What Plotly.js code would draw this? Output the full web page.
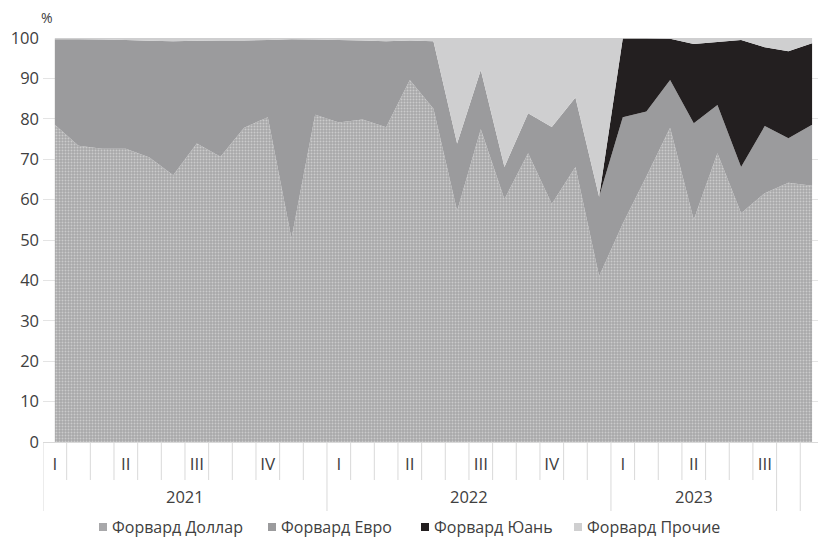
<!DOCTYPE html>
<html>
<head>
<meta charset="utf-8">
<script src="https://cdn.plot.ly/plotly-3.0.1.min.js"></script>
<style>
  html, body { margin: 0; padding: 0; background: #ffffff; }
  #chart { width: 818px; height: 538px; }
</style>
</head>
<body>
<div id="chart"></div>
<script>
// Monthly categories, January 2021 – September 2023
const months = [
  '2021-01','2021-02','2021-03','2021-04','2021-05','2021-06',
  '2021-07','2021-08','2021-09','2021-10','2021-11','2021-12',
  '2022-01','2022-02','2022-03','2022-04','2022-05','2022-06',
  '2022-07','2022-08','2022-09','2022-10','2022-11','2022-12',
  '2023-01','2023-02','2023-03','2023-04','2023-05','2023-06',
  '2023-07','2023-08','2023-09'
];

// Shares of forward contracts by currency, %
const forwardUsd = [
  78.5, 73.3, 72.6, 72.6, 70.4, 66.0, 73.9, 70.6, 77.8, 80.4, 50.4, 81.0,
  79.1, 79.8, 77.9, 89.6, 82.5, 57.2, 77.4, 60.1, 71.5, 58.9, 68.1, 41.0,
  54.0, 65.7, 77.8, 55.0, 71.5, 56.6, 61.6, 64.2, 63.4
];
const forwardEur = [
  21.2, 26.4, 27.0, 26.9, 28.9, 33.2, 25.4, 28.8, 21.6, 19.1, 49.3, 18.6,
  20.4, 19.6, 21.3, 9.8, 16.7, 16.7, 14.7, 8.0, 9.9, 19.1, 17.2, 19.7,
  26.4, 16.1, 11.8, 23.9, 11.9, 11.5, 16.6, 11.0, 15.1
];
const forwardCny = [
  0, 0, 0, 0, 0, 0, 0, 0, 0, 0, 0, 0,
  0, 0, 0, 0, 0, 0, 0, 0, 0, 0, 0, 0,
  19.5, 18.1, 10.2, 19.6, 15.6, 31.4, 19.5, 21.5, 20.2
];
const forwardOther = [
  0.3, 0.3, 0.4, 0.5, 0.7, 0.8, 0.7, 0.6, 0.6, 0.5, 0.3, 0.4,
  0.5, 0.6, 0.8, 0.6, 0.8, 26.1, 7.9, 31.9, 18.6, 22.0, 14.7, 39.3,
  0.1, 0.1, 0.2, 1.5, 1.0, 0.5, 2.3, 3.3, 1.3
];

const seriesNames = ['Форвард Доллар', 'Форвард Евро', 'Форвард Юань', 'Форвард Прочие'];

// Axis labels: quarters under the first month of each quarter, years below
const quarterLabels = ['I','II','III','IV','I','II','III','IV','I','II','III'];
const yearLabels = ['2021', '2022', '2023'];
// year groups as [first category, last category]
const yearSpans = [[0, 11], [12, 23], [24, 30]];
// extra single-month groups at the end of the axis
const lastGroups = [[31, 31], [32, 32]];

const idx = months.map((_, i) => i);
const quarterTicks = quarterLabels.map((_, q) => q * 3);

const textColor = '#404040';
const fontFamily = '"Open Sans", "Noto Sans", "DejaVu Sans", sans-serif';

const usdColor = '#a8a8aa';
const eurColor = '#9b9b9d';
const cnyColor = '#231f20';
const otherColor = '#cfcfd0';
const legendColors = [usdColor, eurColor, cnyColor, otherColor];

const traces = [
  {
    x: idx, y: forwardUsd, name: seriesNames[0], stackgroup: 'one', mode: 'none',
    fillcolor: usdColor,
    fillpattern: { shape: '.', fgcolor: '#cbcbcb', bgcolor: usdColor, size: 3, solidity: 0.35 },
    showlegend: false, hoverinfo: 'skip'
  },
  { x: idx, y: forwardEur, name: seriesNames[1], stackgroup: 'one', mode: 'none',
    fillcolor: eurColor, showlegend: false, hoverinfo: 'skip' },
  { x: idx, y: forwardCny, name: seriesNames[2], stackgroup: 'one', mode: 'none',
    fillcolor: cnyColor, showlegend: false, hoverinfo: 'skip' },
  { x: idx, y: forwardOther, name: seriesNames[3], stackgroup: 'one', mode: 'none',
    fillcolor: otherColor, showlegend: false, hoverinfo: 'skip' }
];

// plot area geometry in pixels (used to convert to paper coordinates)
const M = { l: 43, r: 0, t: 38, b: 96 };
const W = 818, H = 538;
const plotW = W - M.l - M.r, plotH = H - M.t - M.b;
const py = px => (H - M.b - px) / plotH;      // pixel row -> paper y
const pxX = px => (px - M.l) / plotW;          // pixel column -> paper x

// category separators under the axis
const shapes = [];
const longBounds = new Set();
yearSpans.concat(lastGroups).forEach(([a, b]) => { longBounds.add(a - 0.5); longBounds.add(b + 0.5); });
for (let k = 0; k <= months.length; k++) {
  const xv = k - 0.5;
  shapes.push({
    type: 'line', xref: 'x', yref: 'paper', x0: xv, x1: xv,
    y0: 0, y1: longBounds.has(xv) ? py(511) : py(480),
    line: { color: '#d9d9d9', width: 1 }
  });
}

const annotations = [];
// year captions centred on their month groups
yearSpans.forEach(([a, b], i) => {
  annotations.push({
    xref: 'x', yref: 'paper', x: (a + b) / 2, y: py(497),
    text: yearLabels[i], showarrow: false, xanchor: 'center', yanchor: 'middle',
    font: { family: fontFamily, size: 16.5, color: textColor }
  });
});
// unit caption above the value axis
annotations.push({
  xref: 'paper', yref: 'paper', x: pxX(47), y: py(18), text: '%', showarrow: false,
  xanchor: 'center', yanchor: 'middle', font: { family: fontFamily, size: 14, color: textColor }
});

// legend row: square swatch + label
const legendSwatchX = [103, 272, 425, 578];
seriesNames.forEach((name, i) => {
  const cx = legendSwatchX[i];
  shapes.push({
    type: 'rect', xref: 'paper', yref: 'paper',
    x0: pxX(cx - 4), x1: pxX(cx + 4), y0: py(531), y1: py(523),
    fillcolor: legendColors[i], line: { width: 0 }
  });
  annotations.push({
    xref: 'paper', yref: 'paper', x: pxX(cx + 7), y: py(527), text: name, showarrow: false,
    xanchor: 'left', yanchor: 'middle',
    font: { family: fontFamily, size: 16, color: textColor }
  });
});

const layout = {
  width: W, height: H,
  margin: M,
  paper_bgcolor: '#ffffff', plot_bgcolor: '#ffffff',
  showlegend: false,
  font: { family: fontFamily, color: textColor },
  xaxis: {
    range: [-0.5, 32.25], tickmode: 'array', tickvals: quarterTicks, ticktext: quarterLabels,
    showgrid: false, zeroline: false, ticks: '', showline: true, linecolor: '#d9d9d9',
    ticklabelstandoff: 7,
    tickfont: { family: fontFamily, size: 17, color: textColor }
  },
  yaxis: {
    range: [0, 100], dtick: 10, tick0: 0, showgrid: true, gridcolor: '#e4e4e4',
    zeroline: false, ticks: '', showline: false, ticklabelstandoff: 3,
    tickfont: { family: fontFamily, size: 16.5, color: textColor }
  },
  shapes: shapes,
  annotations: annotations
};

Plotly.newPlot('chart', traces, layout, { staticPlot: true, displayModeBar: false });
</script>
</body>
</html>
